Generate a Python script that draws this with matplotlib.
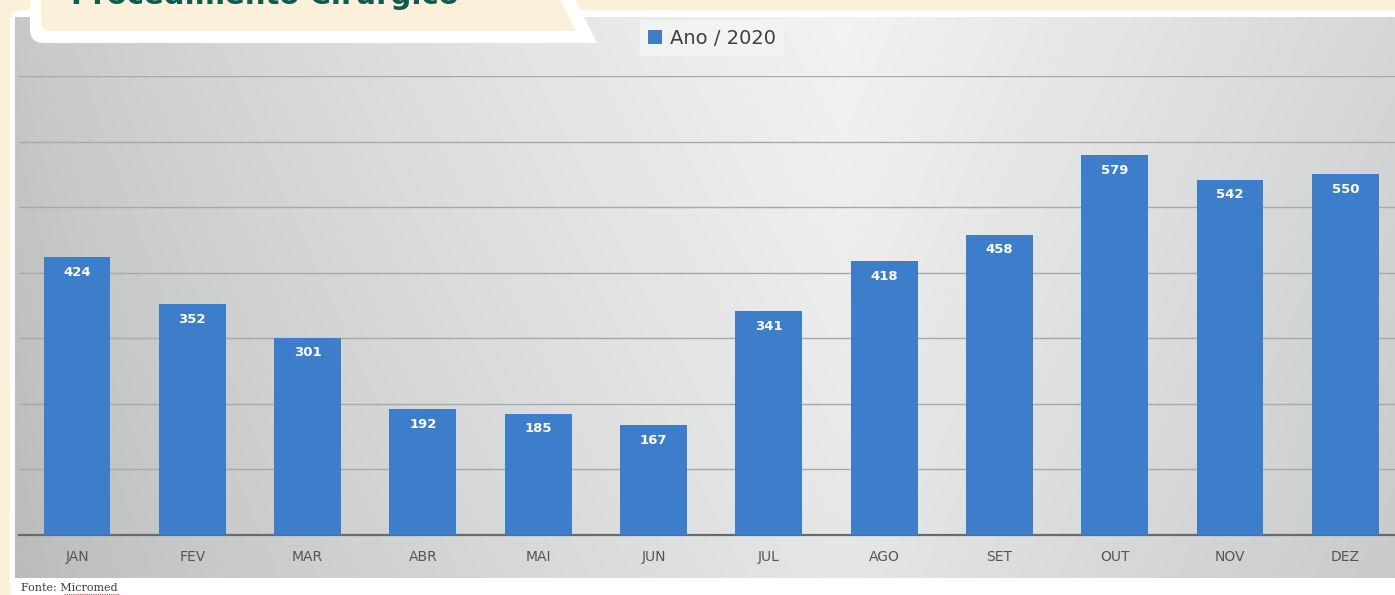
import numpy as np
import matplotlib
matplotlib.use("Agg")
import matplotlib.pyplot as plt
from matplotlib.patches import FancyBboxPatch, Polygon, Rectangle

months = ["JAN", "FEV", "MAR", "ABR", "MAI", "JUN", "JUL", "AGO", "SET", "OUT", "NOV", "DEZ"]
values = [424, 352, 301, 192, 185, 167, 341, 418, 458, 579, 542, 550]
series_name = "Ano / 2020"
title = "Procedimento Cirúrgico"
source = "Fonte: Micromed"

W, H = 1395, 595
CREAM = "#fdf0da"
BLUE = "#3d7ecb"

fig = plt.figure(figsize=(W / 100, H / 100), dpi=100)
fig.patch.set_facecolor("white")

# background layer in pixel coords (y down)
bg = fig.add_axes([0, 0, 1, 1], zorder=0)
bg.set_xlim(0, W)
bg.set_ylim(H, 0)
bg.axis("off")

bg.add_patch(Rectangle((0, 0), W, H, color=CREAM, zorder=0))
bg.add_patch(FancyBboxPatch((10, 10), W + 40, H + 40, boxstyle="round,pad=0,rounding_size=12",
                            fc="white", ec="none", zorder=1))

# grey gradient of the plot area (light in the middle, darker to the sides)
gx, gy = np.meshgrid(np.linspace(0, 1, 500), np.linspace(0, 1, 200))
hx = np.where(gx < 0.6,
              0.76 + 0.17 * (gx / 0.6) ** 0.8,
              0.93 - 0.11 * ((gx - 0.6) / 0.4))
s = np.clip(hx + 0.025 - 0.05 * gy, 0, 1)
rgb = np.dstack([s - 0.007, s, s])
bg.imshow(rgb, extent=(15, W, 578, 17), aspect="auto", zorder=2, interpolation="bilinear")

# title tab
bg.add_patch(FancyBboxPatch((30, -40), 545, 83, boxstyle="round,pad=0,rounding_size=14",
                            fc="white", ec="none", zorder=3))
bg.add_patch(Polygon([(560, -1), (575, -1), (597, 43), (560, 43)], closed=True,
                     fc="white", ec="none", zorder=3))
bg.add_patch(FancyBboxPatch((41, -30), 510, 61, boxstyle="round,pad=0,rounding_size=8",
                            fc=CREAM, ec="none", zorder=4))
bg.add_patch(Polygon([(540, -1), (560, -1), (576, 31), (540, 31)], closed=True,
                     fc=CREAM, ec="none", zorder=4))
bg.text(71, 4, title, fontsize=21, fontweight="bold", color="#0d5c4d",
        va="baseline", ha="left", zorder=5)

bg.text(21, 588, source, fontsize=8, family="DejaVu Serif", color="#3a3a3a",
        va="center", ha="left", zorder=5)
bg.plot([64, 119], [594, 594], color="#d04040", lw=0.8, ls=(0, (1, 1)), zorder=5)

# main chart
step = 115.3
left_px = 77 - 0.5 * step
xmax = (W - 77) / step
ax = fig.add_axes([left_px / W, (H - 535) / H, (W - left_px) / W, (535 - 76) / H], zorder=2)
ax.patch.set_alpha(0)

x = np.arange(len(months))
bars = ax.bar(x, values, width=0.58, color=BLUE, label=series_name, zorder=3)
ax.set_xlim(-0.5, xmax)
ax.set_ylim(0, 700)
ax.set_yticks(np.arange(100, 701, 100))
ax.yaxis.grid(True, color="#a8a8a8", lw=1)
ax.set_axisbelow(True)
ax.tick_params(axis="y", left=False, labelleft=False)
ax.set_xticks(x)
ax.set_xticklabels(months, fontsize=10, color="#555555")
ax.tick_params(axis="x", length=0, pad=10.5)
for side in ["top", "right", "left"]:
    ax.spines[side].set_visible(False)
ax.spines["bottom"].set_color("#6a6a6a")
ax.spines["bottom"].set_linewidth(1.6)

for b, v in zip(bars, values):
    ax.annotate(str(v), (b.get_x() + b.get_width() / 2, v), xytext=(0, -11),
                textcoords="offset points", ha="center", va="center",
                color="white", fontsize=9.5, fontweight="bold")

leg = ax.legend(loc="center", bbox_to_anchor=(712 / W, 1 - 38 / H),
                bbox_transform=fig.transFigure, frameon=True, fontsize=14,
                handlelength=0.7, handleheight=0.7, handletextpad=0.4,
                borderpad=0.45, fancybox=False)
leg.get_frame().set_facecolor("#f4f6f6")
leg.get_frame().set_edgecolor("none")
for t in leg.get_texts():
    t.set_color("#404040")

fig.savefig("out.png", dpi=100)
